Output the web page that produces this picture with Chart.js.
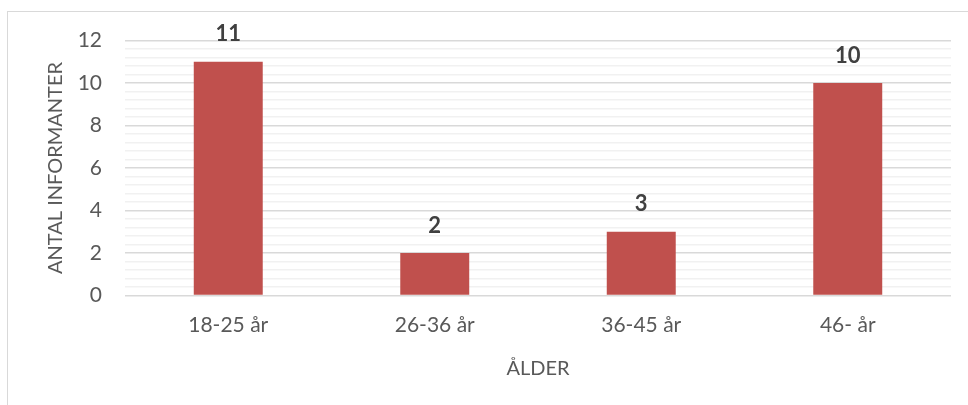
<!DOCTYPE html>
<html>
<head>
<meta charset="utf-8">
<script src="https://cdn.jsdelivr.net/npm/chart.js@4/dist/chart.umd.min.js"></script>
<style>
  html, body { margin: 0; padding: 0; background: #fff; overflow: hidden; }
  #frame { position: absolute; left: 7px; top: 11px; width: 1100px; height: 600px;
           border: 1px solid #d9d9d9; background: #fff; }
  #wrap { position: absolute; left: 0; top: 0; width: 968px; height: 405px; }
</style>
</head>
<body>
<div id="frame"></div>
<div id="wrap"><canvas id="chart" width="968" height="405"></canvas></div>
<script>
// Age groups and number of informants in each
const categories = ['18-25 år', '26-36 år', '36-45 år', '46- år'];
const informants = [11, 2, 3, 10];
const yMin = 0;
const yMax = 12;
const yLabelStep = 2;     // labelled gridlines
const yMinorStep = 0.4;   // faint gridlines in between

const FONT = 'Lato, "Open Sans", sans-serif';

function isMajor(v) {
  return Math.abs(v / yLabelStep - Math.round(v / yLabelStep)) < 1e-6;
}

// Value labels above each bar
const valueLabels = {
  id: 'valueLabels',
  afterDatasetsDraw(chart) {
    const { ctx } = chart;
    const meta = chart.getDatasetMeta(0);
    ctx.save();
    ctx.font = 'bold 22px ' + FONT;
    ctx.fillStyle = '#404040';
    ctx.textAlign = 'center';
    ctx.textBaseline = 'middle';
    meta.data.forEach((bar, i) => {
      ctx.fillText(String(informants[i]), bar.x, bar.y - 27.5);
    });
    ctx.restore();
  }
};

new Chart(document.getElementById('chart'), {
  type: 'bar',
  data: {
    labels: categories,
    datasets: [{
      data: informants,
      backgroundColor: '#C0504D',
      borderWidth: 0,
      barPercentage: 1,
      categoryPercentage: 0.334
    }]
  },
  options: {
    responsive: false,
    animation: false,
    layout: { padding: { left: 44, right: 17, top: 40.5, bottom: 0 } },
    plugins: { legend: { display: false }, tooltip: { enabled: false } },
    scales: {
      x: {
        afterFit(scale) { scale.height = 109.5; },
        grid: { display: false, drawTicks: false },
        border: { display: false },
        ticks: { color: '#595959', font: { family: FONT, size: 21 }, padding: 17 },
        title: {
          display: true, text: 'ÅLDER', color: '#595959',
          font: { family: FONT, size: 20 }, padding: { top: 10, bottom: 24 }
        }
      },
      y: {
        min: yMin,
        max: yMax,
        afterFit(scale) { scale.width = 81; },
        grid: {
          drawTicks: false,
          color: ctx => isMajor(ctx.tick.value) ? '#d9d9d9' : '#f1f1f1',
          lineWidth: ctx => isMajor(ctx.tick.value) ? 1.6 : 1.4
        },
        border: { display: false },
        ticks: {
          stepSize: yMinorStep,
          maxTicksLimit: 100,
          autoSkip: false,
          padding: 23,
          color: '#595959',
          font: { family: FONT, size: 21 },
          callback: v => isMajor(v) ? String(Math.round(v)) : ''
        },
        title: {
          display: true, text: 'ANTAL INFORMANTER', color: '#595959',
          font: { family: FONT, size: 20 }, padding: { top: 0, bottom: 0 }
        }
      }
    }
  },
  plugins: [valueLabels]
});
</script>
</body>
</html>
